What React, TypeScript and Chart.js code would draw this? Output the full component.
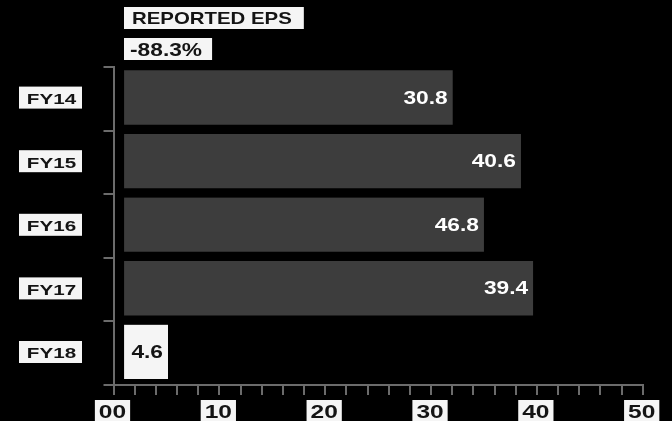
import React, { useEffect, useRef } from "react";
import { Chart, registerables } from "chart.js";

Chart.register(...registerables);

const categories = ["FY14", "FY15", "FY16", "FY17", "FY18"];
const barStart = [1, 1, 1, 1, 1];
const barEnd = [32.05, 38.5, 35.0, 39.65, 5.15];
const valueLabels = ["30.8", "40.6", "46.8", "39.4", "4.6"];
const xTickValues = [0, 10, 20, 30, 40, 50];
const xTickLabels = ["00", "10", "20", "30", "40", "50"];
const titleText = "REPORTED EPS";
const subtitleText = "-88.3%";

const BAR_DARK = "#3d3d3d";
const BAR_LIGHT = "#f5f5f5";
const BOX = "#f5f5f5";
const INK = "#141414";
const AXIS = "#6b6b6b";
const FONT_FAMILY = '"Liberation Sans", Arial, sans-serif';
const CAP = 0.716;
const BORDER_BOTTOM = 3;

function textW(ctx: CanvasRenderingContext2D, t: string, size: number, sx: number) {
  ctx.save();
  ctx.font = `bold ${size}px ${FONT_FAMILY}`;
  const w = ctx.measureText(t).width * sx;
  ctx.restore();
  return w;
}

function drawText(
  ctx: CanvasRenderingContext2D,
  t: string,
  x: number,
  cy: number,
  size: number,
  sx: number,
  align: CanvasTextAlign,
  color: string
) {
  ctx.save();
  ctx.font = `bold ${size}px ${FONT_FAMILY}`;
  ctx.fillStyle = color;
  ctx.textAlign = align;
  ctx.textBaseline = "alphabetic";
  ctx.translate(x, cy + (CAP * size) / 2);
  ctx.scale(sx, 1);
  ctx.fillText(t, 0, 0);
  ctx.restore();
}

const labelsPlugin = {
  id: "customLabels",
  afterDraw(chart: any) {
    const ctx: CanvasRenderingContext2D = chart.ctx;
    const xs = chart.scales.x;
    const ys = chart.scales.y;
    const meta = chart.getDatasetMeta(0);

    // Title boxes
    const tSize = 17, tSx = 1.2;
    const tW = textW(ctx, titleText, tSize, tSx);
    ctx.fillStyle = BOX;
    ctx.fillRect(124, 7, tW + 8 + 12, 22);
    drawText(ctx, titleText, 132, 18, tSize, tSx, "left", INK);

    const sSize = 17.5, sSx = 1.3;
    const sW = textW(ctx, subtitleText, sSize, sSx);
    ctx.fillStyle = BOX;
    ctx.fillRect(124, 38, sW + 6 + 10, 22);
    drawText(ctx, subtitleText, 130, 49.5, sSize, sSx, "left", INK);

    // Category labels
    const cSize = 15.5, cSx = 1.33;
    categories.forEach((c, i) => {
      const cy = ys.getPixelForValue(i) - 1.2;
      ctx.fillStyle = BOX;
      ctx.fillRect(19, cy - 11, 63, 22);
      drawText(ctx, c, 51.5, cy + 0.8, cSize, cSx, "center", INK);
    });

    // Value labels
    const vSize = 17.5, vSx = 1.3;
    meta.data.forEach((bar: any, i: number) => {
      const cy = bar.y - BORDER_BOTTOM / 2;
      const color = i === categories.length - 1 ? INK : "#ffffff";
      drawText(ctx, valueLabels[i], bar.x - 5, cy, vSize, vSx, "right", color);
    });

    // X tick labels
    const xSize = 17.5, xSx = 1.4;
    xTickValues.forEach((v, i) => {
      const px = xs.getPixelForValue(v) - 1;
      const w = textW(ctx, xTickLabels[i], xSize, xSx);
      ctx.fillStyle = BOX;
      ctx.fillRect(px - w / 2 - 4, 400, w + 8, 23);
      drawText(ctx, xTickLabels[i], px, 411.3, xSize, xSx, "center", INK);
    });
  },
};

export default function App() {
  const canvasRef = useRef<HTMLCanvasElement | null>(null);

  useEffect(() => {
    if (!canvasRef.current) return;
    const chart = new Chart(canvasRef.current, {
      type: "bar",
      data: {
        labels: categories,
        datasets: [
          {
            data: categories.map((_, i) => [barStart[i], barEnd[i]]) as any,
            backgroundColor: categories.map((_, i) =>
              i === categories.length - 1 ? BAR_LIGHT : BAR_DARK
            ),
            borderColor: "#000000",
            borderWidth: { top: 0, left: 0, right: 0, bottom: BORDER_BOTTOM } as any,
            borderSkipped: false,
            barThickness: 57,
          },
        ],
      },
      options: {
        indexAxis: "y",
        responsive: false,
        animation: false,
        layout: { padding: { top: 67, right: 29.3, left: 0, bottom: 0 } },
        plugins: {
          legend: { display: false },
          tooltip: { enabled: false },
        },
        scales: {
          x: {
            type: "linear",
            position: "bottom",
            min: 0,
            max: 50,
            grid: {
              display: true,
              drawOnChartArea: false,
              drawTicks: true,
              tickLength: 10,
              color: AXIS,
              lineWidth: 2,
            },
            border: { display: true, color: AXIS, width: 2 },
            ticks: { display: false, autoSkip: false },
            afterBuildTicks: (scale: any) => {
              const t = [];
              for (let v = 0; v <= 50; v += 2) t.push({ value: v });
              scale.ticks = t;
            },
            afterFit: (scale: any) => {
              scale.height = 36;
            },
          },
          y: {
            type: "category",
            position: "left",
            offset: true,
            grid: {
              display: true,
              offset: true,
              drawOnChartArea: false,
              drawTicks: true,
              tickLength: 10,
              color: AXIS,
              lineWidth: 2,
            },
            border: { display: true, color: AXIS, width: 2 },
            ticks: { display: false },
            afterFit: (scale: any) => {
              scale.width = 113.5;
            },
          },
        },
      },
      plugins: [labelsPlugin],
    });
    return () => chart.destroy();
  }, []);

  return (
    <div
      style={{
        position: "fixed",
        left: 0,
        top: 0,
        width: 672,
        height: 421,
        background: "#000",
        overflow: "hidden",
      }}
    >
      <canvas ref={canvasRef} width={672} height={421} style={{ display: "block" }} />
    </div>
  );
}
